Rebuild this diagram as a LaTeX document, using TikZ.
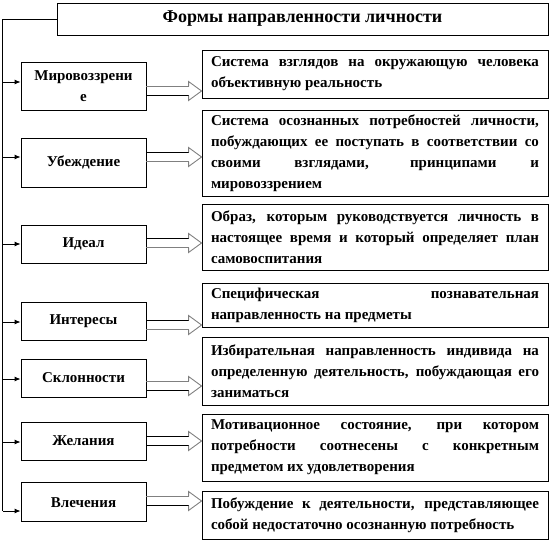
\documentclass[tikz,border=0pt]{standalone}
\usepackage{fontspec}
\setmainfont{Liberation Serif}
\usetikzlibrary{arrows.meta,calc}
\newcommand\boxfont{\fontsize{15}{21}\selectfont\bfseries\tolerance=10000\hyphenpenalty=10000\exhyphenpenalty=10000\relax}
\newcommand\titlefont{\fontsize{18}{22}\selectfont\bfseries}
\definecolor{arrgray}{RGB}{128,128,128}
\tikzset{
  frame/.style={draw, line width=0.9pt},
  titlebox/.style={frame, minimum width=491pt, minimum height=32pt, inner sep=0pt, font=\titlefont},
  lbox/.style={frame, minimum width=125pt, inner sep=1pt, align=center, font=\boxfont},
  rbox/.style={frame, text width=328pt, inner xsep=9pt, inner ysep=1pt, align=justify, font=\boxfont},
  link/.style={line width=0.9pt, -{Latex[length=6pt,width=5pt]}},
  spine/.style={line width=0.9pt},
}
% block arrow: #1 left node, #2 right node, #3 y, #4 top colour, #5 bottom colour
\newcommand\blockarrow[5]{%
  \path (#1.east |- 0,#3) coordinate (ba) (#2.west |- 0,#3) coordinate (bb);
  \draw[line width=0.9pt,#4] ([yshift=4.7pt]ba) -- ([xshift=-13pt,yshift=4.7pt]bb);
  \draw[line width=0.9pt,#5] ([yshift=-4.7pt]ba) -- ([xshift=-13pt,yshift=-4.7pt]bb);
  \draw[line width=0.9pt,arrgray,line join=miter]
    ([xshift=-13pt,yshift=4.7pt]bb) -- ([xshift=-13pt,yshift=9.5pt]bb) -- (bb)
    -- ([xshift=-13pt,yshift=-9.5pt]bb) -- ([xshift=-13pt,yshift=-4.7pt]bb);
}
\begin{document}
\begin{tikzpicture}[x=1pt,y=-1pt]
\useasboundingbox (0,0) rectangle (552,543);

\node[titlebox] (title) at (302.5,19) {Формы направленности личности};

% left column
\node[lbox, minimum height=48pt] (L1) at (83.5,86) {Мировоззрени\\е};
\node[lbox, minimum height=49pt] (L2) at (83.5,162.5) {Убеждение};
\node[lbox, minimum height=38pt] (L3) at (83.5,244) {Идеал};
\node[lbox, minimum height=38pt] (L4) at (83.5,321) {Интересы};
\node[lbox, minimum height=38pt] (L5) at (83.5,378) {Склонности};
\node[lbox, minimum height=38pt] (L6) at (83.5,441) {Желания};
\node[lbox, minimum height=39pt, anchor=north, text height=11pt, text depth=0pt, inner ysep=8pt] (L7) at (83.5,482) {Влечения};

% right column
\node[rbox, minimum height=48pt] (R1) at (375,74)
  {Система взглядов на окружающую человека\linebreak объективную реальность};
\node[rbox, minimum height=86pt] (R2) at (375,153)
  {Система осознанных потребностей личности,\linebreak побуждающих ее поступать в соответствии со\linebreak своими взглядами, принципами и\linebreak мировоззрением};
\node[rbox, minimum height=66pt] (R3) at (375,237)
  {Образ, которым руководствуется личность в\linebreak настоящее время и который определяет план\linebreak самовоспитания};
\node[rbox, minimum height=44pt] (R4) at (375,305)
  {Специфическая познавательная\linebreak направленность на предметы};
\node[rbox, minimum height=68pt] (R5) at (375,371)
  {Избирательная направленность индивида на\linebreak определенную деятельность, побуждающая его\linebreak заниматься};
\node[rbox, minimum height=67pt] (R6) at (375,447.5)
  {Мотивационное состояние, при котором\linebreak потребности соотнесены с конкретным\linebreak предметом их удовлетворения};
\node[rbox, minimum height=48pt] (R7) at (375,515.5)
  {Побуждение к деятельности, представляющее\linebreak собой недостаточно осознанную потребность};

% spine
\coordinate (top) at (2.5,19);
\coordinate (s1) at (2.5,82);
\coordinate (s2) at (2.5,157);
\coordinate (s3) at (2.5,244);
\coordinate (s4) at (2.5,322);
\coordinate (s5) at (2.5,379);
\coordinate (s6) at (2.5,442);
\coordinate (s7) at (2.5,511);
\draw[spine] (title.west) -- (top) -- (s7);
\foreach \i in {1,...,7}{\draw[link] (s\i) -- (s\i -| L\i.west);}

% block arrows
\blockarrow{L1}{R1}{91}{arrgray}{black}
\blockarrow{L2}{R2}{157}{black}{arrgray}
\blockarrow{L3}{R3}{243}{black}{arrgray}
\blockarrow{L4}{R4}{325}{black}{arrgray}
\blockarrow{L5}{R5}{386}{arrgray}{black}
\blockarrow{L6}{R6}{441}{black}{black}
\blockarrow{L7}{R7}{501}{arrgray}{black}
\end{tikzpicture}
\end{document}
